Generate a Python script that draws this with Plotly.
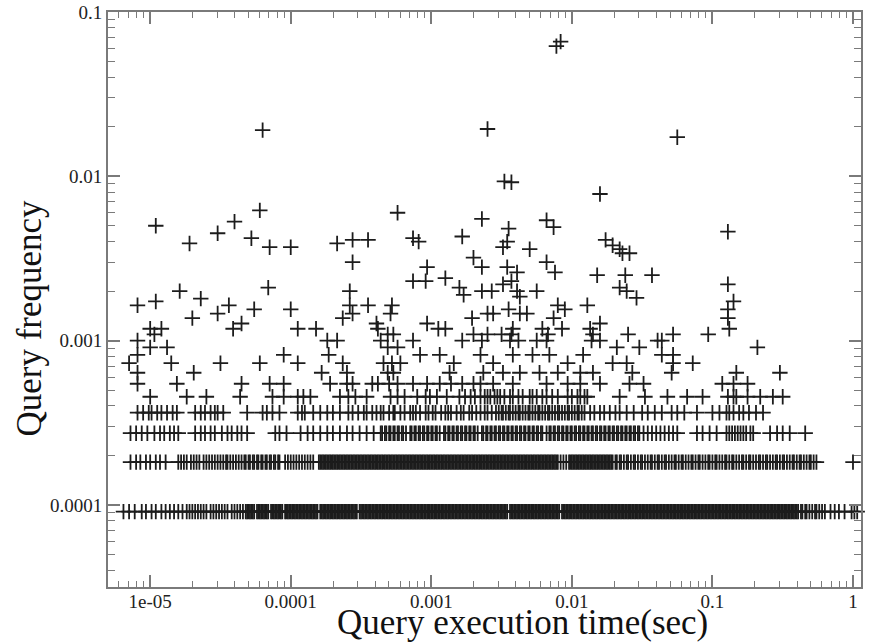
import plotly.graph_objects as go

# query frequency (share of all queries) for the discrete levels n = 1..18
freq_levels = [0.0000909, 0.000182, 0.000273, 0.000364, 0.000455, 0.000546,
               0.000637, 0.000728, 0.000819, 0.000909, 0.001, 0.00109,
               0.00118, 0.00127, 0.00137, 0.00146, 0.00155, 0.00164]

# execution times per level, stored as log10(seconds)
t_lvl1 = [
    -5.19, -5.15, -5.11, -5.06, -5.03, -4.99, -4.96, -4.92, -4.89, -4.86, -4.83,
    -4.80, -4.77, -4.74, -4.72, -4.70, -4.68, -4.66, -4.64, -4.62, -4.60, -4.57,
    -4.55, -4.53, -4.51, -4.49, -4.47, -4.45, -4.42, -4.40, -4.38, -4.36, -4.34,
    -4.32, -4.31, -4.30, -4.29, -4.28, -4.27, -4.26, -4.24, -4.23, -4.22, -4.21,
    -4.20, -4.19, -4.18, -4.17, -4.16, -4.14, -4.13, -4.12, -4.11, -4.10, -4.09,
    -4.08, -4.07, -4.06, -4.04, -4.03, -4.02, -4.01, -4.00,
    -3.99, -3.98, -3.97, -3.96, -3.95, -3.94, -3.93, -3.92, -3.91, -3.90,
    -3.89, -3.88, -3.87, -3.86, -3.85, -3.84, -3.83, -3.82, -3.81,
    -3.79, -3.78, -3.77, -3.76, -3.75, -3.74, -3.73, -3.72, -3.71, -3.70,
    -3.69, -3.68, -3.67, -3.66, -3.65, -3.64, -3.63, -3.62, -3.61, -3.60,
    -3.59, -3.58, -3.57, -3.56, -3.55, -3.54, -3.53, -3.51, -3.50,
    -3.49, -3.48, -3.47, -3.46, -3.45, -3.44, -3.43, -3.42, -3.41, -3.40,
    -3.39, -3.38, -3.37, -3.36, -3.35, -3.34, -3.33, -3.32, -3.31, -3.30,
    -3.29, -3.28, -3.27, -3.26, -3.25, -3.24, -3.23, -3.22, -3.21, -3.20,
    -3.19, -3.18, -3.17, -3.16, -3.15, -3.14, -3.13, -3.12, -3.11, -3.10,
    -3.09, -3.08, -3.07, -3.06, -3.05, -3.04, -3.03, -3.02, -3.01, -3.00,
    -2.99, -2.98, -2.97, -2.96, -2.95, -2.94, -2.93, -2.92, -2.91, -2.90,
    -2.89, -2.88, -2.87, -2.86, -2.85, -2.84, -2.83, -2.82, -2.81, -2.80,
    -2.79, -2.78, -2.77, -2.76, -2.75, -2.74, -2.73, -2.72, -2.71, -2.70,
    -2.69, -2.68, -2.67, -2.66, -2.65, -2.64, -2.63, -2.62, -2.61, -2.60,
    -2.59, -2.58, -2.57, -2.56, -2.55, -2.54, -2.53, -2.52, -2.51, -2.50,
    -2.49, -2.48, -2.47, -2.46, -2.44, -2.43, -2.42, -2.41, -2.40,
    -2.39, -2.38, -2.37, -2.36, -2.35, -2.34, -2.33, -2.32, -2.31, -2.30,
    -2.29, -2.28, -2.27, -2.26, -2.25, -2.24, -2.23, -2.22, -2.21, -2.20,
    -2.19, -2.18, -2.17, -2.16, -2.15, -2.14, -2.13, -2.12, -2.11, -2.10,
    -2.09, -2.07, -2.06, -2.05, -2.04, -2.03, -2.02, -2.01, -2.00,
    -1.99, -1.98, -1.97, -1.96, -1.95, -1.94, -1.93, -1.92, -1.91, -1.90,
    -1.89, -1.88, -1.87, -1.86, -1.85, -1.84, -1.83, -1.82, -1.81, -1.80,
    -1.79, -1.78, -1.77, -1.76, -1.75, -1.74, -1.73, -1.72, -1.71, -1.70,
    -1.69, -1.68, -1.67, -1.66, -1.65, -1.64, -1.63, -1.62, -1.61, -1.60,
    -1.59, -1.58, -1.57, -1.56, -1.55, -1.54, -1.53, -1.52, -1.51, -1.50,
    -1.49, -1.48, -1.47, -1.46, -1.45, -1.44, -1.43, -1.42, -1.41, -1.40,
    -1.39, -1.38, -1.37, -1.36, -1.35, -1.34, -1.33, -1.32, -1.31, -1.30,
    -1.29, -1.28, -1.27, -1.26, -1.25, -1.24, -1.23, -1.22, -1.21, -1.20,
    -1.19, -1.18, -1.17, -1.16, -1.15, -1.14, -1.13, -1.12, -1.11, -1.10,
    -1.09, -1.08, -1.07, -1.06, -1.05, -1.04, -1.03, -1.02, -1.01, -1.00,
    -0.99, -0.98, -0.97, -0.96, -0.95, -0.94, -0.93, -0.92, -0.91, -0.90,
    -0.89, -0.88, -0.87, -0.86, -0.85, -0.84, -0.83, -0.82, -0.81, -0.80,
    -0.79, -0.78, -0.77, -0.76, -0.75, -0.74, -0.73, -0.72, -0.71, -0.70,
    -0.69, -0.68, -0.67, -0.66, -0.65, -0.64, -0.63, -0.62, -0.61, -0.60,
    -0.59, -0.58, -0.57, -0.56, -0.55, -0.54, -0.53, -0.52, -0.51, -0.50,
    -0.49, -0.48, -0.47, -0.46, -0.45, -0.44, -0.43, -0.42, -0.41, -0.40,
    -0.39, -0.37, -0.36, -0.34, -0.33, -0.31, -0.29, -0.27, -0.26, -0.24,
    -0.22, -0.20, -0.16, -0.13, -0.10, -0.06, -0.01, 0.01, 0.03,
]
t_lvl2 = [
    -5.14, -5.10, -5.07, -5.03, -5.00, -4.96, -4.93, -4.89,
    -4.80, -4.78, -4.76, -4.74, -4.71, -4.69, -4.67, -4.65, -4.62, -4.60, -4.58,
    -4.56, -4.54, -4.52, -4.50, -4.48, -4.46, -4.45, -4.43, -4.41, -4.39, -4.37, -4.35,
    -4.33, -4.32, -4.30, -4.29, -4.27, -4.26, -4.24, -4.23, -4.21, -4.20, -4.18,
    -4.17, -4.15, -4.14, -4.12, -4.11, -4.09, -4.08,
    -4.04, -4.02, -4.00, -3.98, -3.96, -3.94, -3.92, -3.90, -3.88, -3.86, -3.84,
    -3.80, -3.79, -3.78, -3.77, -3.76, -3.75, -3.74, -3.73, -3.72, -3.71, -3.70,
    -3.69, -3.68, -3.67, -3.66, -3.65, -3.64, -3.63, -3.62, -3.61, -3.60,
    -3.59, -3.58, -3.57, -3.56, -3.55, -3.54, -3.53, -3.52, -3.51, -3.50,
    -3.49, -3.48, -3.47, -3.46, -3.45, -3.44, -3.43, -3.42, -3.41, -3.40,
    -3.39, -3.38, -3.37, -3.36, -3.35, -3.34, -3.33, -3.32, -3.31, -3.30,
    -3.29, -3.28, -3.27, -3.26, -3.25, -3.24, -3.23, -3.22, -3.21, -3.20,
    -3.19, -3.18, -3.17, -3.16, -3.15, -3.14, -3.13, -3.12, -3.11, -3.10,
    -3.09, -3.08, -3.07, -3.06, -3.05, -3.04, -3.03, -3.02, -3.01, -3.00,
    -2.99, -2.98, -2.97, -2.96, -2.95, -2.94, -2.93, -2.92, -2.91, -2.90,
    -2.89, -2.88, -2.87, -2.86, -2.85, -2.84, -2.83, -2.82, -2.81, -2.80,
    -2.79, -2.78, -2.77, -2.76, -2.75, -2.74, -2.73, -2.72, -2.71, -2.70,
    -2.69, -2.68, -2.67, -2.66, -2.65, -2.64, -2.63, -2.62, -2.61, -2.60,
    -2.59, -2.58, -2.57, -2.56, -2.55, -2.54, -2.53, -2.52, -2.51, -2.50,
    -2.49, -2.48, -2.47, -2.46, -2.45, -2.44, -2.43, -2.42, -2.41, -2.40,
    -2.39, -2.38, -2.37, -2.36, -2.35, -2.34, -2.33, -2.32, -2.31, -2.30,
    -2.29, -2.28, -2.27, -2.26, -2.25, -2.24, -2.23, -2.22, -2.21, -2.20,
    -2.19, -2.18, -2.17, -2.16, -2.15, -2.14, -2.13, -2.12, -2.11, -2.10,
    -2.08, -2.06, -2.04, -2.02,
    -2.01, -2.00, -1.99, -1.98, -1.97, -1.96, -1.95, -1.94, -1.93, -1.92,
    -1.91, -1.90, -1.89, -1.88, -1.87, -1.86, -1.85, -1.84, -1.83, -1.82,
    -1.81, -1.80, -1.79, -1.78, -1.77, -1.76, -1.75, -1.74, -1.73, -1.72, -1.71,
    -1.69, -1.68, -1.66, -1.65, -1.63, -1.61, -1.60, -1.58, -1.56, -1.55,
    -1.53, -1.51, -1.50, -1.48, -1.46, -1.44, -1.43, -1.41, -1.39, -1.38,
    -1.36, -1.34, -1.33, -1.31, -1.29, -1.27, -1.26, -1.24, -1.22, -1.21,
    -1.19, -1.17, -1.15, -1.14, -1.12, -1.10, -1.09, -1.07, -1.05, -1.03,
    -1.02, -1.00, -0.98, -0.97, -0.95, -0.93, -0.91, -0.90, -0.88, -0.86,
    -0.85, -0.83, -0.81, -0.79, -0.78, -0.76, -0.74, -0.73, -0.71, -0.69,
    -0.67, -0.66, -0.64, -0.62, -0.61, -0.59, -0.57, -0.55, -0.54, -0.52,
    -0.50, -0.49, -0.47, -0.45, -0.43, -0.42, -0.40, -0.38, -0.37, -0.35,
    -0.33, -0.31, -0.30, -0.28, -0.26, 0.00,
]
t_lvl3 = [
    -5.14, -5.10, -5.06, -5.02, -4.97, -4.93, -4.90, -4.86, -4.83, -4.80,
    -4.68, -4.64, -4.61, -4.57, -4.54, -4.49, -4.45, -4.42, -4.38, -4.35, -4.31,
    -4.11, -4.08, -4.03, -3.93, -3.88, -3.84, -3.79, -3.74, -3.70, -3.65, -3.60,
    -3.56, -3.51, -3.46, -3.41,
    -3.36, -3.35, -3.33, -3.32, -3.30, -3.29, -3.27, -3.26, -3.24, -3.23, -3.21,
    -3.20, -3.18, -3.15, -3.14, -3.12, -3.11, -3.09, -3.08, -3.06, -3.05, -3.03,
    -3.02, -3.00, -2.99, -2.97, -2.96, -2.94, -2.91, -2.90, -2.88, -2.87, -2.85,
    -2.84, -2.82, -2.81, -2.79, -2.78, -2.76, -2.75, -2.73, -2.72, -2.70, -2.69,
    -2.67, -2.64, -2.63, -2.61, -2.60, -2.58, -2.57, -2.55, -2.54, -2.52, -2.51,
    -2.49, -2.48, -2.46, -2.45, -2.43, -2.42, -2.40, -2.39, -2.37, -2.36, -2.34,
    -2.33, -2.31, -2.30, -2.28, -2.27, -2.25, -2.24, -2.22, -2.21, -2.18, -2.16,
    -2.15, -2.13, -2.12, -2.10, -2.09, -2.07, -2.06, -2.04, -2.03, -2.01, -2.00,
    -1.98, -1.97, -1.95, -1.94, -1.92, -1.91, -1.89, -1.88, -1.86, -1.85, -1.83,
    -1.82, -1.80, -1.79, -1.77, -1.76, -1.74, -1.73, -1.71, -1.70, -1.68, -1.67,
    -1.65, -1.64, -1.62, -1.61, -1.59, -1.58, -1.56, -1.55, -1.53, -1.52,
    -1.49, -1.46, -1.43, -1.40, -1.37, -1.34, -1.31, -1.28, -1.25,
    -1.11, -1.07, -1.02, -0.97,
    -0.90, -0.88, -0.86, -0.84, -0.82, -0.80, -0.78, -0.76, -0.73, -0.71,
    -0.59, -0.54, -0.50, -0.45, -0.34,
]
t_lvl4 = [
    -5.09, -5.05, -5.01, -4.99, -4.95, -4.92, -4.88, -4.84, -4.81,
    -4.68, -4.64, -4.61, -4.57, -4.54, -4.52, -4.48, -4.31,
    -4.20, -4.17, -4.13, -4.08, -3.95, -3.92, -3.90, -3.84, -3.79, -3.74, -3.70,
    -3.65, -3.59, -3.56, -3.52, -3.48, -3.46, -3.42,
    -3.39, -3.36, -3.34, -3.30, -3.27, -3.26, -3.22, -3.19, -3.15, -3.13, -3.11,
    -3.08, -3.04, -3.02, -2.99, -2.97, -2.93, -2.90, -2.88, -2.86, -2.82, -2.79,
    -2.77, -2.73, -2.71, -2.68, -2.65, -2.62, -2.60, -2.57, -2.54, -2.52,
    -2.50, -2.49, -2.47, -2.45, -2.44, -2.42, -2.40, -2.38, -2.37, -2.35, -2.33,
    -2.31, -2.30, -2.28, -2.26, -2.24, -2.23, -2.21, -2.19, -2.17, -2.16, -2.14,
    -2.12, -2.10, -2.09, -2.07, -2.05, -2.03, -2.02, -2.00, -1.98, -1.96, -1.95,
    -1.93, -1.91,
    -1.87, -1.84, -1.80, -1.77, -1.73, -1.69, -1.66, -1.61,
    -1.56, -1.50, -1.46, -1.41, -1.36, -1.29, -1.25, -1.20, -1.11,
    -1.00, -0.95, -0.90, -0.88, -0.85, -0.81, -0.78, -0.74, -0.69, -0.64,
]
t_lvl5 = [
    -5.00, -4.74, -4.60, -4.36, -4.13, -4.05, -3.95, -3.91, -3.86, -3.65, -3.59,
    -3.54, -3.46, -3.29, -3.24, -3.19, -3.10, -3.04, -3.01, -2.96, -2.89, -2.80,
    -2.76, -2.72, -2.69, -2.65, -2.62, -2.60, -2.58, -2.55, -2.53, -2.51, -2.48,
    -2.44, -2.42, -2.38, -2.35, -2.30, -2.28, -2.25, -2.21, -2.18, -2.14, -2.10,
    -2.03, -2.00, -1.96, -1.94, -1.91, -1.89, -1.66, -1.48, -1.32, -1.18, -1.07,
    -0.89, -0.85, -0.83, -0.75, -0.66, -0.57, -0.50,
]
t_lvl6 = [-5.09, -4.81, -4.35, -4.15, -4.05, -3.72, -3.60, -3.56, -3.42, -3.38,
          -3.30, -3.24, -3.13, -3.03, -2.94, -2.86, -2.78, -2.70, -2.65, -2.56,
          -2.42, -2.18, -2.03, -1.94, -1.80, -1.59, -1.49, -0.93, -0.85, -0.75]
t_lvl7 = [-5.09, -4.69, -3.78, -3.60, -3.31, -3.27, -2.87, -2.63, -2.49, -2.37,
          -2.23, -2.10, -1.94, -1.85, -1.57, -1.29, -0.83, -0.52]
t_lvl8 = [-5.15, -4.85, -4.50, -4.22, -3.95, -3.63, -3.34, -3.28, -3.22, -2.84,
          -2.56, -2.03, -1.71, -1.61, -1.28, -1.14]
t_lvl9 = [-5.09, -4.05, -3.73, -3.08, -2.94, -2.65, -2.42, -2.28, -2.16, -1.92,
          -1.36, -1.28]
t_lvl10 = [-5.00, -4.88, -3.31, -3.24, -1.68, -1.52, -0.68]
t_lvl11 = [-5.09, -3.74, -3.67, -3.36, -3.13, -2.78, -2.64, -2.44, -2.38, -2.25,
           -2.18, -1.86, -1.80, -1.39, -1.36]
t_lvl12 = [-4.97, -3.31, -3.27, -2.70, -2.60, -2.50, -2.43, -2.17, -1.85, -1.60,
           -1.28, -1.03]
t_lvl13 = [-5.00, -4.92, -4.41, -3.95, -3.82, -3.38, -2.95, -2.90, -2.42, -2.21,
           -2.07, -1.87, -0.88]
t_lvl14 = [-4.35, -3.39, -3.03, -1.80]
t_lvl15 = [-4.70, -3.63, -2.71, -2.13, -0.89]
t_lvl16 = [-4.52, -3.56, -3.29, -2.60, -2.56, -2.37, -2.32]
t_lvl17 = [-4.26, -4.00, -2.45, -2.05, -0.89]
t_lvl18 = [-5.09, -4.44, -3.58, -3.45, -3.28, -2.10, -1.89]

# the rarer, more frequent queries
upper_t = [-4.96, -0.85, -4.64, -2.37, -1.54, -2.77, -4.79, -3.58, -2.64, -2.57,
           -2.39, -2.25, -1.61, -4.16, -2.80, -1.66, -2.49, -0.89, -2.43, -3.13,
           -3.04, -2.90, -1.82, -1.62, -1.43, -2.39, -2.12, -3.03, -2.64, -2.46,
           -3.56, -2.18, -2.70, -1.64, -1.59, -1.66, -2.30, -2.49, -4.15, -4.00,
           -1.71, -3.67, -4.72, -2.46, -3.09, -3.56, -3.45, -1.76, -4.28, -3.13,
           -2.78, -4.52, -0.89, -2.45, -2.13, -4.96, -4.40, -2.18, -2.64, -3.24,
           -4.22, -1.80, -2.48, -2.43, -1.25, -4.20, -2.60, -2.11, -2.08]
upper_freq = [0.00173, 0.00173, 0.0018, 0.00185, 0.00182, 0.0019, 0.0020, 0.0020,
              0.0020, 0.0020, 0.0020, 0.0020, 0.0020, 0.0021, 0.0021, 0.0021,
              0.0022, 0.0022, 0.0023, 0.0023, 0.0023, 0.0024, 0.0025, 0.0025,
              0.0025, 0.0026, 0.0026, 0.0028, 0.0028, 0.0028, 0.0030, 0.0030,
              0.0032, 0.0034, 0.0034, 0.0036, 0.0036, 0.0037, 0.0037, 0.0037,
              0.0038, 0.0039, 0.0039, 0.0040, 0.0040, 0.0041, 0.0041, 0.0041,
              0.0042, 0.0042, 0.0043, 0.0045, 0.0046, 0.0048, 0.0049, 0.0050,
              0.0053, 0.0054, 0.0055, 0.0060, 0.0062, 0.0078, 0.0093, 0.0092,
              0.0173, 0.0191, 0.0194, 0.062, 0.066]

x_ticks = [1e-5, 1e-4, 1e-3, 1e-2, 1e-1, 1]
x_labels = ['1e-05', '0.0001', '0.001', '0.01', '0.1', '1']
y_ticks = [1e-4, 1e-3, 1e-2, 1e-1]
y_labels = ['0.0001', '0.001', '0.01', '0.1']

level_times = [t_lvl1, t_lvl2, t_lvl3, t_lvl4, t_lvl5, t_lvl6, t_lvl7, t_lvl8, t_lvl9,
               t_lvl10, t_lvl11, t_lvl12, t_lvl13, t_lvl14, t_lvl15, t_lvl16,
               t_lvl17, t_lvl18]

xs, ys = [], []
for f, ts in zip(freq_levels, level_times):
    xs += [10 ** v for v in ts]
    ys += [f] * len(ts)
xs += [10 ** v for v in upper_t]
ys += upper_freq

minor_x = [m * 10.0 ** e for e in range(-6, 1) for m in range(2, 10)]
minor_y = [m * 10.0 ** e for e in range(-5, -1) for m in range(2, 10)]

axis_col = '#7a7a7a'
fig = go.Figure(go.Scatter(
    x=xs, y=ys, mode='markers', cliponaxis=False,
    marker=dict(symbol='cross-thin', size=11, color='#111',
                line=dict(width=1.8, color='#1c1c1c')),
))

common = dict(type='log', showgrid=False, zeroline=False, showline=True,
              linecolor=axis_col, linewidth=2, mirror='allticks', automargin=False,
              ticks='inside', tickcolor=axis_col, tickwidth=1.5, ticklen=12,
              tickmode='array', tickfont=dict(size=19, color='#222'))

fig.update_xaxes(common, range=[-5.30, 0.057], tickvals=x_ticks, ticktext=x_labels,
                 ticklabelstandoff=-4,
                 minor=dict(tickmode='array', tickvals=minor_x, ticks='inside',
                            ticklen=6, tickwidth=1.2, tickcolor=axis_col))
fig.update_yaxes(common, range=[-4.5, -1.0], tickvals=y_ticks, ticktext=y_labels,
                 minor=dict(tickmode='array', tickvals=minor_y, ticks='inside',
                            ticklen=7, tickwidth=1.2, tickcolor=axis_col))

title_font = dict(family='Liberation Serif', size=35, color='#111')
fig.add_annotation(text='Query execution time(sec)', xref='paper', yref='paper',
                   x=0.55, y=-0.0974, xanchor='center', yanchor='bottom',
                   borderpad=0, showarrow=False, font=title_font)
fig.add_annotation(text='Query frequency', xref='paper', yref='paper',
                   x=-0.104, y=0.468, xanchor='center', yanchor='middle',
                   textangle=-90, showarrow=False, font=title_font)

fig.update_layout(
    width=876, height=643,
    margin=dict(l=108, r=15, t=12, b=56),
    paper_bgcolor='white', plot_bgcolor='white',
    font=dict(family='Liberation Serif'),
    showlegend=False,
)

# drop the browser's default page margin so the figure sits at the top-left corner
fig.write_html("out.html", config={'displayModeBar': False},
               post_script="document.body.style.margin = '0px';")
